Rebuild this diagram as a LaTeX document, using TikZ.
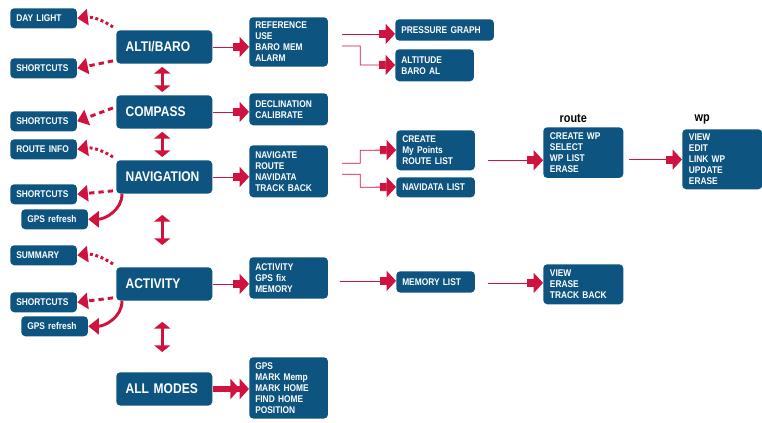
\documentclass[tikz,border=0pt]{standalone}
\usepackage{fontspec}
\setmainfont{Liberation Sans}[FakeStretch=0.86]
\usetikzlibrary{arrows.meta,calc}
\definecolor{boxblue}{RGB}{14,84,128}
\definecolor{arrred}{RGB}{208,18,62}

\begin{document}
\begin{tikzpicture}[x=0.75pt, y=-0.75pt]
    \tikzstyle{box} = [rectangle, rounded corners=3pt, fill=boxblue, text=white, anchor=north west, align=left, inner xsep=4.5pt, inner ysep=2pt, font=\fontsize{7.3}{8.3}\selectfont\bfseries]
    \tikzstyle{side} = [box, minimum width=50pt, text width=41pt, minimum height=15pt]
    \tikzstyle{mode} = [box, minimum width=72pt, text width=58pt, inner xsep=7pt, minimum height=25pt, font=\fontsize{10.5}{12}\selectfont\bfseries]
    \tikzstyle{list} = [box, minimum width=59pt, text width=50pt]
    \tikzstyle{go} = [draw=arrred, line width=0.6pt, -{Rectangle[length=5pt,width=6pt]Triangle[length=7pt,width=15pt]}]
    \tikzstyle{updown} = [draw=arrred, line width=2.5pt, {Triangle[length=5pt,width=12pt]}-{Triangle[length=5pt,width=12pt]}]
    \tikzstyle{back} = [draw=arrred, line width=2.2pt, -{Triangle[length=8pt,width=12pt]}]
    \useasboundingbox (0,0) rectangle (762,423);

    % Modes
    \node [mode] (alti) at (116,30) {ALTI/BARO};
    \node [mode] (compass) at (116,95) {COMPASS};
    \node [mode] (nav) at (116,160) {NAVIGATION};
    \node [mode] (act) at (116,267) {ACTIVITY};
    \node [mode] (all) at (116,372) {ALL MODES};

    % Side functions
    \node [side] (daylight) at (10,8) {DAY LIGHT};
    \node [side] (short1) at (10,58) {SHORTCUTS};
    \node [side] (short2) at (10,111) {SHORTCUTS};
    \node [side] (routeinfo) at (10,139) {ROUTE INFO};
    \node [side] (short3) at (10,184) {SHORTCUTS};
    \node [side] (gps1) at (21,209) {GPS refresh};
    \node [side] (summary) at (10,245) {SUMMARY};
    \node [side] (short4) at (10,292) {SHORTCUTS};
    \node [side] (gps2) at (21,316) {GPS refresh};

    % Menus
    \node [list, minimum height=37pt] (altimenu) at (249,17) {REFERENCE\\USE\\BARO MEM\\ALARM};
    \node [list, minimum height=24pt] (compmenu) at (249,93) {DECLINATION\\CALIBRATE};
    \node [list, minimum height=39pt] (navmenu) at (249,145) {NAVIGATE\\ROUTE\\NAVIDATA\\TRACK BACK};
    \node [list, minimum height=31pt] (actmenu) at (249,257) {ACTIVITY\\GPS fix\\MEMORY};
    \node [list, minimum height=46pt] (allmenu) at (249,357) {GPS\\MARK Memp\\MARK HOME\\FIND HOME\\POSITION};

    % Sub menus
    \node [list, minimum width=74pt, text width=65pt, minimum height=16pt] (pressure) at (395,19) {PRESSURE GRAPH};
    \node [list, minimum height=24pt] (altitude) at (395,49) {ALTITUDE\\BARO AL};
    \node [list, minimum height=30pt] (create) at (396,130) {CREATE\\My Points\\ROUTE LIST};
    \node [list, minimum height=15pt] (navidata) at (396,177) {NAVIDATA LIST};
    \node [list, minimum height=16pt] (memory) at (396,271) {MEMORY LIST};
    \node [list, minimum width=60pt, minimum height=38pt] (route) at (543,127) {CREATE WP\\SELECT\\WP LIST\\ERASE};
    \node [list, minimum width=60pt, minimum height=45pt] (wp) at (682,129) {VIEW\\EDIT\\LINK WP\\UPDATE\\ERASE};
    \node [list, minimum width=60pt, minimum height=30pt] (view) at (543,264) {VIEW\\ERASE\\TRACK BACK};
    \node [font=\fontsize{9.5}{11}\selectfont\bfseries, anchor=south] (routelbl) at ($(route.north)+(-10,0)$) {route};
    \node [font=\fontsize{9.5}{11}\selectfont\bfseries, anchor=south] (wplbl) at ($(wp.north)+(-20,0)$) {wp};

    % Mode to menu
    \draw [go] (alti.east) -- (altimenu.west |- alti.east);
    \draw [go] (compass.east) -- (compmenu.west |- compass.east);
    \draw [go] (nav.east) -- (navmenu.west |- nav.east);
    \draw [go] (act.east) -- (actmenu.west |- act.east);
    \draw [draw=arrred, line width=4.5pt, -{Triangle[length=7pt,width=15pt]Triangle[length=7pt,width=15pt]}] (all.east) -- (allmenu.west |- all.east);

    % Menu to sub menu
    \coordinate (a1) at ($(altimenu.east)+(14,-8)$);
    \coordinate (a2) at ($(altimenu.east)+(14,4)$);
    \coordinate (n1) at ($(navmenu.east)+(14,-8)$);
    \coordinate (n2) at ($(navmenu.east)+(14,3)$);
    \coordinate (c1) at ($(create.east)+(13,10)$);
    \coordinate (r1) at ($(route.east)+(5,7)$);
    \coordinate (m1) at ($(actmenu.east)+(12,3)$);
    \coordinate (m2) at ($(memory.east)+(13,1)$);
    \draw [go] (a1) -- (pressure.west |- a1);
    \draw [go] (a2) -| ++(18,19) -- (altitude.west |- 0,65);
    \draw [go] (n1) -| ++(18,-13) -- (create.west |- 0,150);
    \draw [go] (n2) -| ++(18,13) -- (navidata.west |- 0,187);
    \draw [go] (c1) -- (route.west |- c1);
    \draw [go] (r1) -- (wp.west |- r1);
    \draw [go] (m1) -- (memory.west |- m1);
    \draw [go] (m2) -- (view.west |- m2);

    % Between modes
    \draw [updown] ($(alti.south)+(-2,3)$) -- ($(compass.north)+(-2,-3)$);
    \draw [updown] ($(compass.south)+(-2,3)$) -- ($(nav.north)+(-2,-3)$);
    \draw [updown] ($(nav.south)+(-2,21)$) -- ($(act.north)+(-2,-22)$);
    \draw [updown] ($(act.south)+(-2,21)$) -- ($(all.north)+(-2,-20)$);

    % Back to side functions
    \draw [back, dotted] ($(alti.north west)+(-3,-3)$) to[bend right=20] (daylight.east);
    \draw [back, dash pattern=on 4pt off 3pt] ($(alti.south west)+(-3,-3)$) -- (short1.east);
    \draw [back, dash pattern=on 4pt off 3pt] ($(compass.west)+(-3,-4)$) -- (short2.east);
    \draw [back, dotted] ($(nav.north west)+(-3,-3)$) to[bend right=20] (routeinfo.east);
    \draw [back, dash pattern=on 4pt off 3pt] ($(nav.south west)+(-3,-3)$) -- (short3.east);
    \draw [back] ($(nav.south west)+(6,0)$) to[out=-90, in=0] (gps1.east);
    \draw [back, dotted] ($(act.north west)+(-3,-3)$) to[bend right=20] (summary.east);
    \draw [back, dash pattern=on 4pt off 3pt] ($(act.south west)+(-3,-3)$) -- (short4.east);
    \draw [back] ($(act.south west)+(6,0)$) to[out=-90, in=0] (gps2.east);
\end{tikzpicture}
\end{document}
